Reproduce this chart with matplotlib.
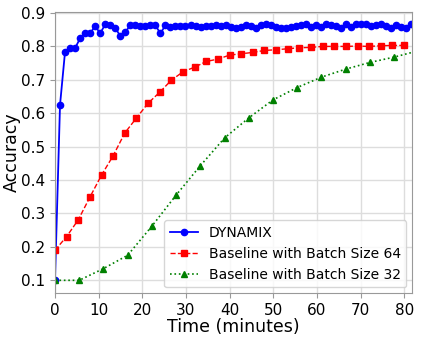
import matplotlib
matplotlib.use("Agg")
import matplotlib.pyplot as plt

dyn_t = [0.0, 1.15, 2.3, 3.45, 4.6, 5.75, 6.9, 8.05, 9.2, 10.35, 11.5, 12.65, 13.8, 14.95,
         16.1, 17.25, 18.4, 19.55, 20.7, 21.85, 23.0, 24.15, 25.3, 26.45, 27.6, 28.75,
         29.9, 31.05, 32.2, 33.35, 34.5, 35.65, 36.8, 37.95, 39.1, 40.25, 41.4, 42.55,
         43.7, 44.85, 46.0, 47.15, 48.3, 49.45, 50.6, 51.75, 52.9, 54.05, 55.2, 56.35,
         57.5, 58.65, 59.8, 60.95, 62.1, 63.25, 64.4, 65.55, 66.7, 67.85, 69.0, 70.15,
         71.3, 72.45, 73.6, 74.75, 75.9, 77.05, 78.2, 79.35, 80.5, 81.65]
dyn_acc = [0.100, 0.625, 0.784, 0.795, 0.795, 0.824, 0.841, 0.839, 0.861, 0.839, 0.866,
           0.864, 0.856, 0.831, 0.842, 0.864, 0.863, 0.862, 0.862, 0.864, 0.863, 0.839,
           0.863, 0.858, 0.860, 0.861, 0.860, 0.864, 0.861, 0.858, 0.862, 0.862, 0.864,
           0.861, 0.863, 0.859, 0.855, 0.859, 0.864, 0.862, 0.854, 0.864, 0.866, 0.864,
           0.859, 0.854, 0.856, 0.859, 0.861, 0.864, 0.866, 0.859, 0.864, 0.857, 0.866,
           0.864, 0.861, 0.854, 0.866, 0.857, 0.867, 0.867, 0.866, 0.862, 0.864, 0.867,
           0.861, 0.854, 0.864, 0.857, 0.854, 0.867]

b64_t = [0.0, 2.67, 5.33, 8.0, 10.67, 13.33, 16.0, 18.67, 21.33, 24.0, 26.67, 29.33,
         32.0, 34.67, 37.33, 40.0, 42.67, 45.33, 48.0, 50.67, 53.33, 56.0, 58.67,
         61.33, 64.0, 66.67, 69.33, 72.0, 74.67, 77.33, 80.0]
b64_acc = [0.190, 0.231, 0.281, 0.349, 0.415, 0.473, 0.541, 0.586, 0.630, 0.663, 0.699,
           0.724, 0.738, 0.755, 0.762, 0.774, 0.778, 0.782, 0.788, 0.790, 0.793, 0.796,
           0.797, 0.800, 0.800, 0.800, 0.801, 0.800, 0.802, 0.803, 0.803]

b32_t = [0.0, 5.55, 11.1, 16.65, 22.2, 27.75, 33.3, 38.85, 44.4, 49.95, 55.5, 61.05,
         66.6, 72.15, 77.7, 83.25]
b32_acc = [0.100, 0.100, 0.135, 0.175, 0.262, 0.355, 0.443, 0.526, 0.586, 0.640, 0.677,
           0.708, 0.732, 0.752, 0.768, 0.787]

labels = ["DYNAMIX", "Baseline with Batch Size 64", "Baseline with Batch Size 32"]

fig = plt.figure(figsize=(4.23, 3.38), dpi=100)
ax = fig.add_axes([55/423, 1 - 293/338, (412-55)/423, (293-12)/338])

ax.plot(dyn_t, dyn_acc, color="blue", linestyle="-", marker="o", markersize=4.5,
        linewidth=1.3, label=labels[0])
ax.plot(b64_t, b64_acc, color="red", linestyle="--", marker="s", markersize=5,
        linewidth=1.0, label=labels[1])
ax.plot(b32_t, b32_acc, color="green", linestyle=":", marker="^", markersize=5,
        linewidth=1.2, label=labels[2])

ax.set_xlim(0, 81.8)
ax.set_ylim(0.062, 0.903)
ax.set_xticks([0, 10, 20, 30, 40, 50, 60, 70, 80])
ax.set_yticks([0.1, 0.2, 0.3, 0.4, 0.5, 0.6, 0.7, 0.8, 0.9])
ax.set_yticklabels(["0.1", "0.2", "0.3", "0.4", "0.5", "0.6", "0.7", "0.8", "0.9"])
ax.grid(True, color="#dddddd", linewidth=1.0)
ax.set_axisbelow(True)
for s in ax.spines.values():
    s.set_color("#999999")
ax.tick_params(axis="both", labelsize=11, color="#999999", length=3.5)
ax.set_xlabel("Time (minutes)", fontsize=12.5, labelpad=0)
ax.set_ylabel("Accuracy", fontsize=12.5, labelpad=0)
ax.legend(loc="lower right", fontsize=10, framealpha=0.8, borderaxespad=0.4)

fig.savefig("out.png", dpi=100)
